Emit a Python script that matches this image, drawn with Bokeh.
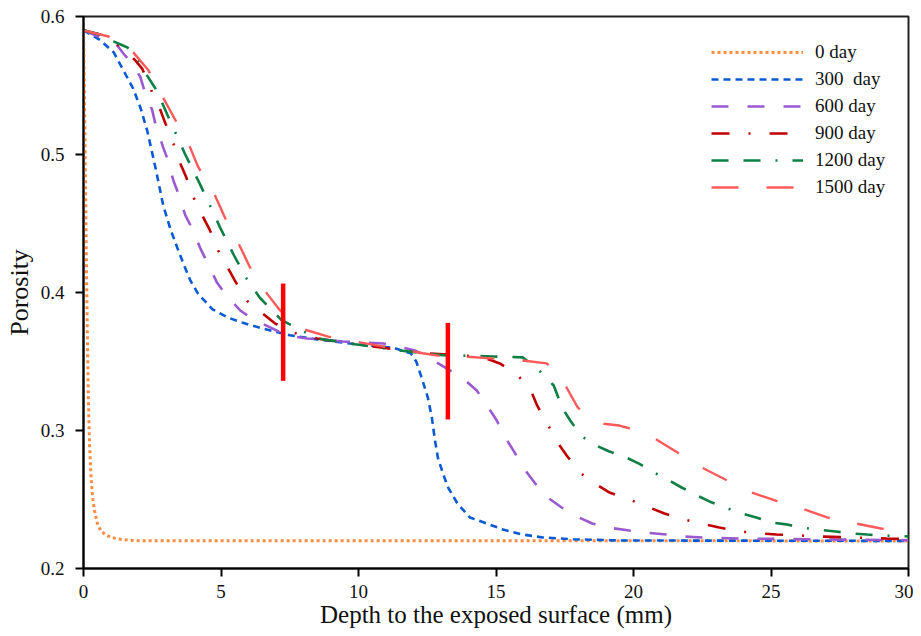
from bokeh.plotting import figure
from bokeh.models import Range1d, FixedTicker
from bokeh.embed import file_html
from bokeh.resources import INLINE

# ---- data ----
x_0 = [0, 0.03, 0.06, 0.1, 0.14, 0.18, 0.22, 0.28, 0.34, 0.4, 0.5, 0.62, 0.8, 1.0, 1.4, 2.0, 30]
y_0 = [0.59, 0.55, 0.5, 0.43, 0.37, 0.32, 0.29, 0.264, 0.25, 0.242, 0.233, 0.2275, 0.2245, 0.2225, 0.221, 0.2201, 0.22]

x_300 = [0, 0.6, 1.1, 1.45, 1.8, 2.07, 2.32, 2.6, 2.9, 3.16, 3.4, 3.63, 3.88, 4.17, 4.68, 5.23, 5.8, 6.5,
         7.5, 8.5, 9.7, 11.25, 11.9, 12.1, 12.3, 12.52, 12.67, 12.78, 12.89, 13.07, 13.25, 13.6, 14.05,
         14.66, 15.25, 15.97, 16.7, 17.8, 19.5, 30]
y_300 = [0.59, 0.583, 0.574, 0.561, 0.548, 0.534, 0.517, 0.492, 0.463, 0.446, 0.433, 0.421, 0.409, 0.399,
         0.388, 0.382, 0.378, 0.374, 0.369, 0.366, 0.363, 0.360, 0.356, 0.350, 0.338, 0.324, 0.309, 0.293,
         0.280, 0.269, 0.259, 0.247, 0.237, 0.2326, 0.2283, 0.2246, 0.2225, 0.2212, 0.2203, 0.22]

x_600 = [0, 0.6, 1.23, 1.45, 1.8, 2.07, 2.18, 2.5, 2.61, 2.9, 3.05, 3.27, 3.45, 3.7, 3.95, 4.25, 4.5, 4.86,
         5.23, 5.7, 6.13, 6.86, 7.4, 8.13, 9.44, 10.9, 11.25, 12.05, 12.5, 13.32, 13.68, 14.3, 14.6, 15.03,
         15.25, 15.68, 15.93, 16.4, 16.77, 17.39, 17.86, 18.5, 19.06, 19.85, 20.4, 21.2, 21.78, 22.5, 23.85, 30]
y_600 = [0.59, 0.585, 0.579, 0.5732, 0.565, 0.556, 0.5486, 0.532, 0.5225, 0.505, 0.497, 0.481, 0.4717,
         0.456, 0.4464, 0.432, 0.4217, 0.407, 0.397, 0.387, 0.381, 0.374, 0.3688, 0.3667, 0.3645, 0.363,
         0.3616, 0.358, 0.3535, 0.3435, 0.340, 0.329, 0.3203, 0.3072, 0.2978, 0.284, 0.2746, 0.2623, 0.2529,
         0.2442, 0.2384, 0.2326, 0.2297, 0.2275, 0.226, 0.2246, 0.2232, 0.2225, 0.2217, 0.2205]

x_900 = [0, 0.6, 1.2, 1.5, 1.89, 2.14, 2.43, 2.8, 2.98, 3.27, 3.52, 3.74, 4.0, 4.36, 4.6, 4.9, 5.26, 5.5,
         5.95, 6.5, 6.97, 7.62, 8.5, 9.7, 10.9, 12.3, 13.87, 14.66, 15.14, 15.8, 16.3, 16.5, 16.88, 17.24,
         17.57, 18.04, 18.65, 19.13, 19.85, 20.58, 21.1, 21.85, 22.58, 23.12, 23.9, 24.65, 25.2, 26.0,
         26.75, 27.95, 29.2, 30]
y_900 = [0.59, 0.587, 0.58, 0.576, 0.568, 0.562, 0.548, 0.532, 0.5225, 0.508, 0.4935, 0.4833, 0.469,
         0.4543, 0.445, 0.4304, 0.4174, 0.4087, 0.394, 0.385, 0.3775, 0.371, 0.3667, 0.363, 0.360, 0.356,
         0.3543, 0.352, 0.3486, 0.340, 0.3275, 0.318, 0.3043, 0.2913, 0.2819, 0.2696, 0.2609, 0.255, 0.25,
         0.2442, 0.24, 0.2355, 0.232, 0.2297, 0.2268, 0.2254, 0.2246, 0.224, 0.2232, 0.2225, 0.2217, 0.2213]

x_1200 = [0, 0.6, 1.09, 1.6, 2.0, 2.32, 2.61, 2.87, 3.09, 3.34, 3.7, 4.2, 4.6, 4.97, 5.47, 5.9, 6.42,
          7.2, 7.45, 8.5, 9.7, 11.5, 13.07, 13.75, 14.9, 15.97, 16.5, 17.1, 17.4, 17.7, 18.1, 18.65, 19.1,
          19.67, 20.2, 20.7, 21.23, 21.75, 22.3, 22.76, 23.34, 23.9, 24.46, 25.0, 25.55, 26.1, 26.75,
          27.35, 27.95, 28.5, 29.0, 30]
y_1200 = [0.59, 0.587, 0.582, 0.5775, 0.568, 0.557, 0.548, 0.537, 0.527, 0.516, 0.5, 0.48, 0.463, 0.447,
          0.427, 0.411, 0.396, 0.38, 0.3775, 0.3667, 0.363, 0.358, 0.3545, 0.3543, 0.3536, 0.353, 0.345,
          0.3326, 0.3167, 0.3072, 0.296, 0.289, 0.285, 0.281, 0.276, 0.270, 0.2645, 0.2587, 0.253, 0.2486,
          0.2442, 0.24, 0.237, 0.2333, 0.232, 0.2297, 0.228, 0.2268, 0.2254, 0.2246, 0.224, 0.2232]

x_1500 = [0, 0.91, 1.81, 2.36, 2.9, 3.34, 3.88, 4.17, 4.79, 5.15, 5.7, 6.06, 6.68, 7.15, 7.6, 8.06, 8.9,
          10.3, 11.14, 12.34, 12.96, 13.87, 15.0, 15.97, 16.84, 17.2, 17.57, 17.97, 18.4, 18.87, 19.49,
          19.78, 20.3, 20.83, 21.6, 22.5, 23.34, 24.3, 25.2, 26.2, 27.04, 28.1, 29.0, 30]
y_1500 = [0.59, 0.5855, 0.574, 0.561, 0.541, 0.525, 0.505, 0.491, 0.470, 0.454, 0.433, 0.418, 0.399,
          0.387, 0.3785, 0.373, 0.368, 0.363, 0.360, 0.356, 0.354, 0.3536, 0.352, 0.3507, 0.3486, 0.343,
          0.331, 0.3167, 0.309, 0.305, 0.3036, 0.302, 0.298, 0.2935, 0.284, 0.273, 0.2645, 0.255, 0.249,
          0.243, 0.237, 0.2326, 0.229, 0.226]

series_labels = ["0 day", "300  day", "600 day", "900 day", "1200 day", "1500 day"]

# red marker bars (annotation positions in data units)
bar_x = [7.26, 13.25]
bar_y_low = [0.336, 0.308]
bar_y_high = [0.4065, 0.378]

x_ticks = [0, 5, 10, 15, 20, 25, 30]
y_ticks = [0.2, 0.3, 0.4, 0.5, 0.6]

# ---- figure ----
FONT = "Liberation Serif"
p = figure(width=913, height=636, output_backend="svg", toolbar_location=None,
           x_range=Range1d(0, 30), y_range=Range1d(0.2, 0.6),
           min_border_left=83, min_border_right=5, min_border_top=16, min_border_bottom=68)
p.background_fill_color = "white"
p.border_fill_color = "white"
p.outline_line_color = "#222222"
p.outline_line_width = 2
p.grid.visible = False

styles = [
    (x_0, y_0, "#FF8C42", "3 3", 3.0),
    (x_300, y_300, "#0A5BD3", "7 5", 2.6),
    (x_600, y_600, "#9B59D0", "17 19", 2.6),
    (x_900, y_900, "#C00000", "18 19 2 19", 2.6),
    (x_1200, y_1200, "#0E7F45", "17 15 17 15 2 15", 2.6),
    (x_1500, y_1500, "#FF5A5A", "27 28", 2.4),
]
for (xs, ys, col, dash, lw), lab in zip(styles, series_labels):
    p.line(xs, ys, line_color=col, line_dash=dash, line_width=lw, legend_label=lab)

p.segment(x0=bar_x, y0=bar_y_low, x1=bar_x, y1=bar_y_high, line_color="#FF0000", line_width=4.5)

# axes
for ax in (p.xaxis[0], p.yaxis[0]):
    ax.axis_line_width = 2
    ax.axis_line_color = "black"
    ax.major_tick_line_width = 2
    ax.major_tick_line_color = "black"
    ax.major_tick_out = 8
    ax.major_tick_in = 0
    ax.minor_tick_line_color = None
    ax.major_label_text_font = FONT
    ax.major_label_text_font_size = "19px"
    ax.major_label_text_color = "#111111"
    ax.axis_label_text_font = FONT
    ax.axis_label_text_font_style = "normal"
    ax.axis_label_text_color = "#111111"

p.xaxis.axis_label_text_font_size = "25px"
p.yaxis.axis_label_text_font_size = "26px"
p.xaxis.ticker = FixedTicker(ticks=x_ticks)
p.yaxis.ticker = FixedTicker(ticks=y_ticks)
p.xaxis.axis_label = "Depth to the exposed surface (mm)"
p.yaxis.axis_label = "Porosity"
p.xaxis.major_label_standoff = 8
p.xaxis.axis_label_standoff = 0
p.yaxis.major_label_standoff = 11
p.yaxis.axis_label_standoff = 4

# legend
lg = p.legend[0]
lg.location = (628, 368)
lg.border_line_color = None
lg.background_fill_alpha = 0
lg.label_text_font = FONT
lg.label_text_font_size = "19px"
lg.label_text_color = "#111111"
lg.glyph_width = 92
lg.glyph_height = 26
lg.label_height = 26
lg.spacing = 1
lg.label_standoff = 12
lg.margin = 0
lg.padding = 8

open("out.html", "w").write(file_html(p, INLINE))
